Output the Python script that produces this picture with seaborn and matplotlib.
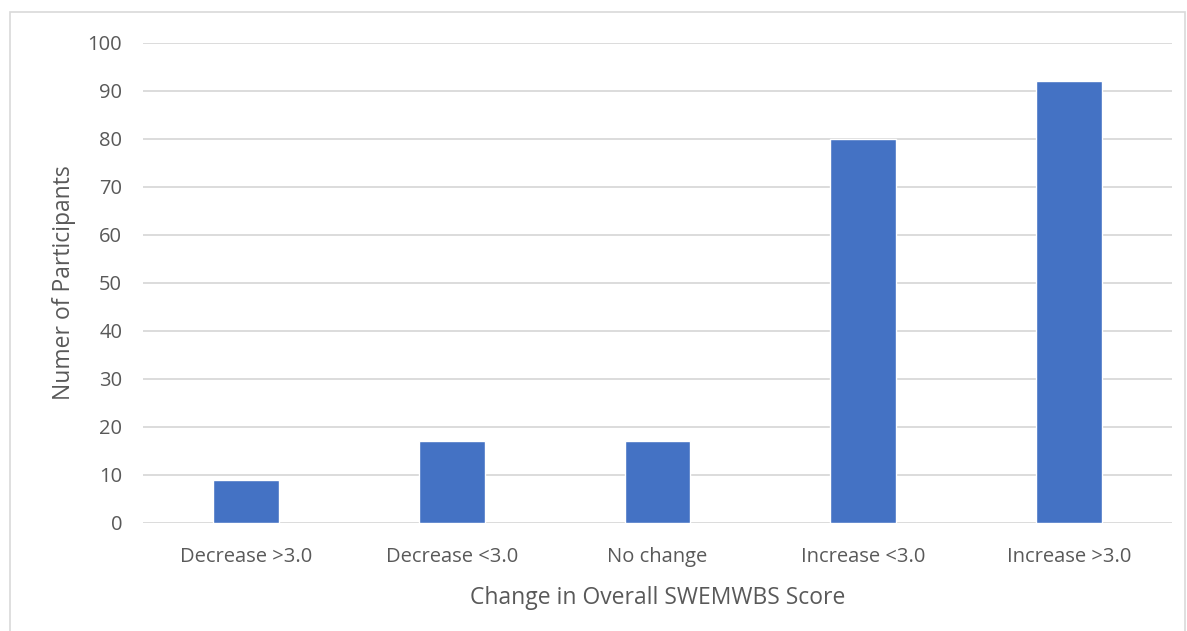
import pandas as pd
import seaborn as sns
import matplotlib.pyplot as plt
from matplotlib.patches import Rectangle

# data
categories = ["Decrease >3.0", "Decrease <3.0", "No change", "Increase <3.0", "Increase >3.0"]
participants = [9, 17, 17, 80, 92]

df = pd.DataFrame({"change": categories, "count": participants})

sns.set_theme(style="white")
plt.rcParams["font.family"] = ["Open Sans", "DejaVu Sans"]

fig = plt.figure(figsize=(11.87, 6.31), dpi=100)
ax = fig.add_axes([143 / 1187, 1 - 523 / 631, (1172 - 143) / 1187, (523 - 43) / 631])

sns.barplot(data=df, x="change", y="count", color="#4472C4", saturation=1,
            width=0.32, ax=ax, zorder=3)

ax.set_ylim(0, 100)
ax.set_yticks(range(0, 101, 10))
ax.set_xlim(-0.5, 4.5)
ax.yaxis.grid(True, color="#d9d9d9", linewidth=1.3, zorder=0)
ax.set_axisbelow(True)
sns.despine(ax=ax, left=True, bottom=True)
ax.tick_params(axis="both", length=0, labelsize=14.5, labelcolor="#595959")
ax.tick_params(axis="y", pad=15)
ax.tick_params(axis="x", pad=17)

ax.set_xlabel("Change in Overall SWEMWBS Score", fontsize=16.5, color="#595959", labelpad=14)
ax.set_ylabel("Numer of Participants", fontsize=16.5, color="#595959", labelpad=8)

# light frame around the chart area
fig.patches.append(Rectangle((10 / 1187, -0.01), (1185 - 10) / 1187, 1 - 12 / 631 + 0.01,
                             transform=fig.transFigure, fill=False,
                             edgecolor="#d9d9d9", linewidth=1.2))

fig.savefig("out.png", dpi=100)
